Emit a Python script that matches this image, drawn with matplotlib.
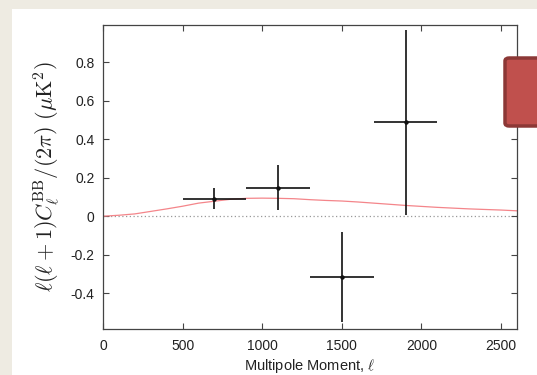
import matplotlib.pyplot as plt
from matplotlib.patches import Rectangle, FancyBboxPatch

plt.rcParams['font.family'] = ['Liberation Sans', 'DejaVu Sans']
plt.rcParams['mathtext.fontset'] = 'cm'

# band powers
ell = [700, 1100, 1500, 1900]
ell_err = [200, 200, 200, 200]
cbb = [0.092, 0.149, -0.316, 0.488]
cbb_err = [0.056, 0.116, 0.235, 0.48]

# lensing B-mode model curve
model_ell = [0, 100, 200, 300, 400, 500, 600, 700, 800, 900, 1000, 1100, 1200,
             1300, 1400, 1500, 1600, 1700, 1800, 1900, 2000, 2100, 2200, 2300,
             2400, 2500, 2600]
model_cbb = [0.0, 0.005, 0.012, 0.025, 0.038, 0.052, 0.068, 0.078, 0.088, 0.093,
             0.094, 0.093, 0.091, 0.086, 0.082, 0.079, 0.074, 0.068, 0.062, 0.056,
             0.051, 0.046, 0.042, 0.038, 0.035, 0.032, 0.028]

fig = plt.figure(figsize=(5.37, 3.75), dpi=100)
fig.patch.set_facecolor('#eeebe2')
fig.patches.append(Rectangle((12 / 537, 0), 1, 1 - 9 / 375, transform=fig.transFigure,
                             facecolor='white', edgecolor='none', zorder=-5))

ax = fig.add_axes([103 / 537, 1 - 329 / 375, (517 - 103) / 537, (329 - 25) / 375])
ax.set_facecolor('white')
ax.set_zorder(1)

ax.axhline(0, color='#999999', lw=0.9, ls=(0, (1, 2)), zorder=1)
ax.plot(model_ell, model_cbb, color='#f4858a', lw=0.9, zorder=2)
ax.errorbar(ell, cbb, xerr=ell_err, yerr=cbb_err, fmt='o', color='#111111',
            ms=2.2, elinewidth=1.2, capsize=0, zorder=3)

ax.set_xlim(0, 2600)
ax.set_ylim(-0.587, 0.995)
ax.set_xticks([0, 500, 1000, 1500, 2000, 2500])
ax.set_yticks([-0.4, -0.2, 0, 0.2, 0.4, 0.6, 0.8])
ax.set_yticklabels(['-0.4', '-0.2', '0', '0.2', '0.4', '0.6', '0.8'])
ax.tick_params(direction='in', top=True, right=True, length=4, width=0.8,
               labelsize=10, color='#444444', labelcolor='#222222')
ax.tick_params(axis='x', pad=7)
ax.tick_params(axis='y', pad=6)
for s in ax.spines.values():
    s.set_color('#444444')
    s.set_linewidth(0.9)

ax.set_xlabel(r'Multipole Moment, $\ell$', fontsize=10.5, labelpad=3, color='#222222')
ax.set_ylabel(r'$\ell(\ell+1)C_\ell^{\rm BB}/(2\pi)\ (\mu{\rm K}^2)$', fontsize=16,
              labelpad=6, color='#222222')

# red box overlapping the right edge
fig.patches.append(FancyBboxPatch((505 / 537, 1 - 126 / 375), 60 / 537, 68 / 375,
                                  boxstyle='round,pad=0,rounding_size=0.008',
                                  transform=fig.transFigure, facecolor='#c0504d',
                                  edgecolor='#8c3836', lw=2.5, zorder=5))

fig.savefig('out.png', dpi=100)
